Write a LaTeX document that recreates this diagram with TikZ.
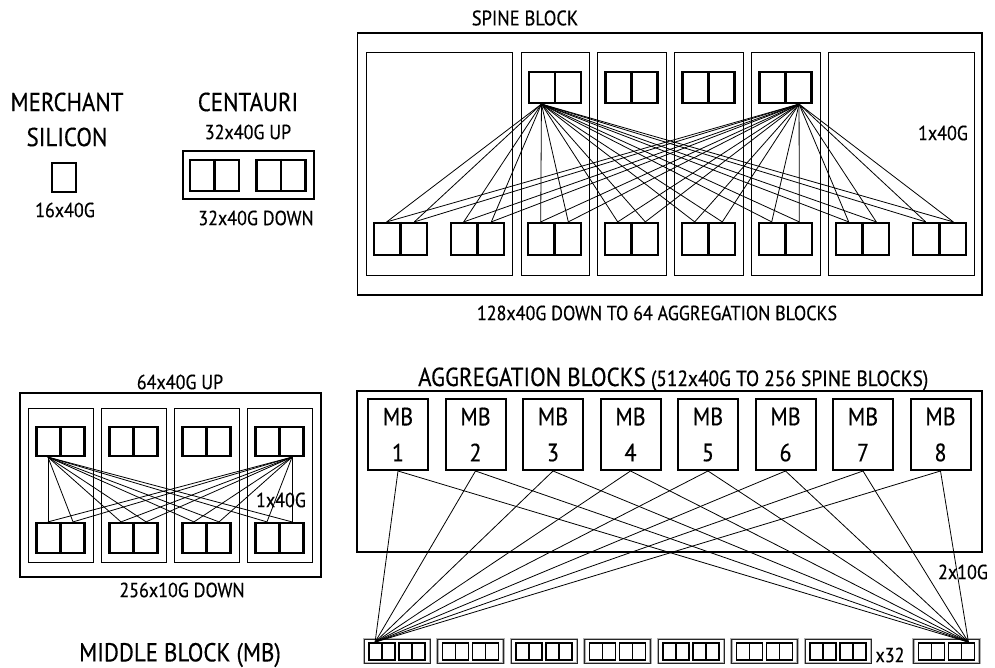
\documentclass[tikz,border=0pt]{standalone}
\usepackage{fontspec}
\setmainfont[FakeStretch=0.88,FakeBold=0.4]{PT Sans}
\usetikzlibrary{calc}
\newcommand\mkswitch[6]{%
  \node[swbox, minimum width=#5pt, minimum height=#6pt] (#1) at ({#2},{#3}) {};
  \draw[swdiv] (#1.north) -- (#1.south);}
\begin{document}
\begin{tikzpicture}[x=1pt,y=-1pt,
  lbl/.style={inner sep=0pt, font=\fontsize{20.5}{20.5}\selectfont},
  big/.style={inner sep=0pt, font=\fontsize{26}{26}\selectfont},
  frame/.style={draw, line width=1.2pt, inner sep=0pt},
  col/.style={draw, line width=0.9pt, inner sep=0pt},
  swbox/.style={draw, line width=2.2pt, inner sep=0pt},
  swdiv/.style={line width=2.2pt},
  smdiv/.style={line width=1.5pt},
  link/.style={line width=0.8pt},
  mbbox/.style={draw, line width=2pt, inner sep=0pt, minimum width=60pt, minimum height=71pt, align=center, font=\fontsize{25}{36}\selectfont},
  grp/.style={draw=black!85, line width=0.8pt, inner sep=0pt, minimum width=66pt, minimum height=24pt, preaction={draw=black!30, line width=2.4pt}},
  smsw/.style={draw, line width=1.7pt, inner sep=0pt, minimum width=26pt, minimum height=17pt},
]
\useasboundingbox (0,0) rectangle (995,668);

% ---------- Merchant silicon ----------
\node[big] (mtxt1) at (67,102) {MERCHANT};
\node[big] (mtxt2) at (67,137) {SILICON};
\node[swbox, minimum width=24pt, minimum height=29pt] (msq) at (64,177.5) {};
\node[lbl] (mtxt3) at (65,210) {16x40G};

% ---------- Centauri ----------
\node[big] (ctxt1) at (248,102) {CENTAURI};
\node[lbl] (ctxt2) at (248,132) {32x40G UP};
\node[frame, minimum width=131pt, minimum height=48pt] (cbox) at (248.5,175) {};
\mkswitch{cs1}{214.5}{175.5}{}{49}{31}
\mkswitch{cs2}{281}{175.5}{}{49}{31}
\node[lbl] (ctxt3) at (256,218) {32x40G DOWN};

% ---------- Spine block ----------
\node[lbl, font=\fontsize{21}{21}\selectfont] (stitle) at (525,18) {SPINE BLOCK};
\node[frame, minimum width=624.5pt, minimum height=262pt] (spine) at (669.75,164) {};
\foreach \n/\x/\w in {1/439/146, 2/555/68, 3/631.5/69, 4/708.5/69, 5/785.5/69, 6/901/146}
  \node[col, minimum width=\w pt, minimum height=223pt] (scol\n) at (\x,163.5) {};
\foreach \n/\x in {1/555, 2/631.5, 3/708.5, 4/785.5}
  {\mkswitch{st\n}{\x}{87.5}{}{52}{31}}
\foreach \n in {1,...,8}
  {\pgfmathsetmacro\xx{400.5+77*(\n-1)}
   \mkswitch{sb\n}{\xx}{239}{}{53}{32}}
\coordinate (ssrcA) at ($(st1.south)!0.5!(st1.south west)$);
\coordinate (ssrcB) at ($(st4.south)!0.5!(st4.south east)$);
\foreach \n in {1,...,8} {
  \draw[link] (ssrcA) -- ($(sb\n.north)!0.5!(sb\n.north west)$);
  \draw[link] (ssrcA) -- ($(sb\n.north)!0.5!(sb\n.north east)$);
  \draw[link] (ssrcB) -- ($(sb\n.north)!0.5!(sb\n.north west)$);
  \draw[link] (ssrcB) -- ($(sb\n.north)!0.5!(sb\n.north east)$);
}
\node[lbl] (s1x40) at (943,133) {1x40G};
\node[lbl] (sdown) at (657,313) {128x40G DOWN TO 64 AGGREGATION BLOCKS};

% ---------- Middle block ----------
\node[lbl] (mbup) at (180,382) {64x40G UP};
\node[frame, minimum width=301pt, minimum height=184pt] (mblk) at (170.5,485) {};
\foreach \n/\x in {1/60.5, 2/133.5, 3/206.5, 4/279.5} {
  \node[col, minimum width=65pt, minimum height=154pt] (mcol\n) at (\x,485) {};
  \mkswitch{mt\n}{\x}{441.5}{}{48}{29}
  \mkswitch{mb\n}{\x}{538}{}{48}{30}
}
\coordinate (msrcA) at ($(mt1.south)!0.5!(mt1.south west)$);
\coordinate (msrcB) at ($(mt4.south)!0.5!(mt4.south east)$);
\foreach \n in {1,...,4} {
  \draw[link] (msrcA) -- ($(mb\n.north)!0.5!(mb\n.north west)$);
  \draw[link] (msrcA) -- ($(mb\n.north)!0.5!(mb\n.north east)$);
  \draw[link] (msrcB) -- ($(mb\n.north)!0.5!(mb\n.north west)$);
  \draw[link] (msrcB) -- ($(mb\n.north)!0.5!(mb\n.north east)$);
}
\node[lbl] (m1x40) at (281,500) {1x40G};
\node[lbl] (mdown) at (182,590) {256x10G DOWN};
\node[big] (mname) at (180,655) {MIDDLE BLOCK (MB)};

% ---------- Aggregation blocks ----------
\node[inner sep=0pt, anchor=base west] (atitle) at (418,386)
  {{\fontsize{26}{26}\selectfont AGGREGATION BLOCKS}{\fontsize{22}{22}\selectfont\ (512x40G TO 256 SPINE BLOCKS)}};
\node[frame, minimum width=625pt, minimum height=161pt] (agg) at (669.5,471.5) {};
\foreach \n in {1,...,8}
  {\pgfmathsetmacro\xx{398+77.5*(\n-1)}
   \node[mbbox] (amb\n) at (\xx,434.5) {MB\\\n};}
\foreach \n/\x in {1/397, 2/470.5, 3/544, 4/617.5, 5/691, 6/764.5, 7/838, 8/946.5} {
  \node[grp] (g\n) at (\x,651) {};
  \node[smsw] (g\n a) at ({\x-15},651.5) {};
  \draw[smdiv] (g\n a.north) -- (g\n a.south);
  \node[smsw] (g\n b) at ({\x+15},651.5) {};
  \draw[smdiv] (g\n b.north) -- (g\n b.south);
}
\coordinate (gL) at ($(g1a.north)!0.5!(g1a.north west)$);
\coordinate (gR) at ($(g8b.north)!0.5!(g8b.north east)$);
\foreach \n in {1,...,8} {
  \draw[link] (amb\n.south) -- (gL);
  \draw[link] (amb\n.south) -- (gR);
}
\node[lbl] (x32) at (890,655) {x32};
\node[lbl] (a2x10) at (963,572) {2x10G};
\end{tikzpicture}
\end{document}
